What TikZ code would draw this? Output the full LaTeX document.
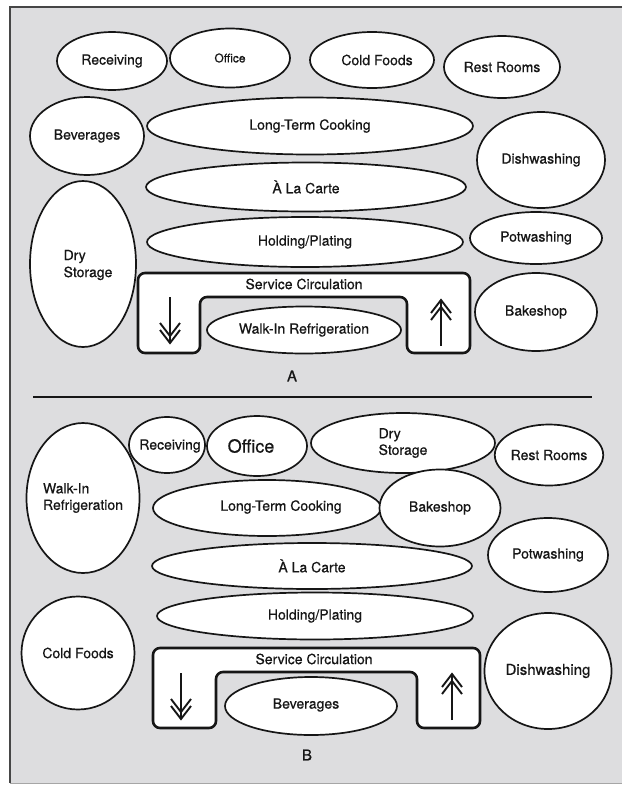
\documentclass[tikz,border=0pt]{standalone}
\usepackage{fontspec}
\setmainfont{TeX Gyre Heros}[FakeBold=0.6]
\usetikzlibrary{shapes.geometric}
\definecolor{panelgray}{RGB}{221,221,223}
\definecolor{framegray}{RGB}{70,70,70}
\definecolor{ink}{RGB}{22,22,22}
\begin{document}
\begin{tikzpicture}[x=1pt,y=-1pt,
  room/.style={ellipse, draw=ink, line width=1.7pt, fill=white, inner sep=0pt,
    text=ink, font=\fontsize{14}{16.5}\selectfont},
  lbl/.style={inner sep=0pt, text=ink, font=\fontsize{14}{17}\selectfont},
  circulation/.style={draw=ink, line width=2.6pt, fill=white, rounded corners=7pt},
  flowline/.style={draw=ink, line width=1.9pt},
  pics/downflow/.style={code={
    \draw[flowline] (0,0) -- (0,46);
    \draw[flowline] (-10,26) -- (0,39) -- (10,26);
    \draw[flowline] (-10,33) -- (0,46) -- (10,33);
  }},
  pics/upflow/.style={code={
    \draw[flowline] (0,0) -- (0,-46);
    \draw[flowline] (-10,-26) -- (0,-39) -- (10,-26);
    \draw[flowline] (-10,-33) -- (0,-46) -- (10,-33);
  }},
]
\useasboundingbox (0,0) rectangle (622,785);
\fill[white] (0,0) rectangle (622,785);
% panel background and frame
\fill[panelgray] (10,7) rectangle (622,783);
\draw[framegray, line width=1.4pt] (622,7) -- (10,7) -- (10,783);
\draw[gray!70, line width=0.6pt] (10,783) -- (622,783);

% ---------------- Layout A ----------------
\node[room, minimum width=110, minimum height=58] (recA) at (112,61) {Receiving};
\node[room, minimum width=120, minimum height=59, font=\fontsize{12}{14}\selectfont] (offA) at (230,58) {Office};
\node[room, minimum width=124, minimum height=56] (cfA) at (372,60) {};
\node[lbl] (cfAtext) at (377,60) {Cold Foods};
\node[room, minimum width=116, minimum height=62] (rrA) at (502,67) {Rest Rooms};
\node[room, minimum width=114, minimum height=78] (bevA) at (87,136) {Beverages};
\node[room, minimum width=326, minimum height=57] (ltcA) at (310,126) {Long-Term Cooking};
\node[room, minimum width=128, minimum height=96] (dwA) at (541,160) {Dishwashing};
\node[room, minimum width=320, minimum height=49] (alcA) at (306,187) {À La Carte};
\node[room, minimum width=316, minimum height=50] (hpA) at (305,242) {Holding/Plating};
\node[room, minimum width=132, minimum height=52] (pwA) at (536,238) {Potwashing};
\node[room, minimum width=106, minimum height=166] (dsA) at (83,264) {};
\node[lbl, align=left] (dsAtext) at (88,265) {Dry\\Storage};
\node[room, minimum width=122, minimum height=78] (bkA) at (536,312) {Bakeshop};

\path[circulation] (138,273) -- (470,273) -- (470,353) -- (407,353) -- (407,297)
  -- (200,297) -- (200,353) -- (138,353) -- cycle;
\node[lbl] (scA) at (304,284) {Service Circulation};
\node[room, minimum width=194, minimum height=47] (wiA) at (304,330) {Walk-In Refrigeration};
\pic at (170,297) {downflow};
\pic at (441,346) {upflow};
\node[lbl, font=\fontsize{15}{17}\selectfont] (labA) at (292,376) {A};

% divider
\draw[ink, line width=2.8pt] (33,397) -- (592,397);

% ---------------- Layout B ----------------
\node[room, minimum width=104, minimum height=150, align=left] (wiB) at (83,498) {Walk-In\\Refrigeration};
\node[room, minimum width=76, minimum height=56] (recB) at (167,445) {};
\node[lbl] (recBtext) at (170,446) {Receiving};
\node[room, minimum width=100, minimum height=60] (offB) at (257,446) {};
\node[lbl, font=\fontsize{18}{20}\selectfont] (offBtext) at (251,446) {Office};
\node[room, minimum width=184, minimum height=60, align=left] (dsB) at (403,443) {Dry\\Storage};
\node[room, minimum width=106, minimum height=61] (rrB) at (549,455) {Rest Rooms};
\node[room, minimum width=228, minimum height=56] (ltcB) at (267,508) {};
\node[lbl] (ltcBtext) at (281,507) {Long-Term Cooking};
\node[room, minimum width=121, minimum height=77] (bkB) at (440,508) {Bakeshop};
\node[room, minimum width=120, minimum height=74] (pwB) at (548,555) {Potwashing};
\node[room, minimum width=320, minimum height=46] (alcB) at (312,566) {À La Carte};
\node[room, minimum width=316, minimum height=47] (hpB) at (315,616) {Holding/Plating};
\node[room, minimum width=113, minimum height=113] (cfB) at (78,653) {Cold Foods};
\node[room, minimum width=127, minimum height=116, font=\fontsize{15}{17}\selectfont] (dwB) at (548,671) {Dishwashing};

\path[circulation] (153,648) -- (480,648) -- (480,728) -- (417,728) -- (417,672)
  -- (216,672) -- (216,728) -- (153,728) -- cycle;
\node[lbl] (scB) at (314,659) {Service Circulation};
\node[room, minimum width=172, minimum height=58] (bevB) at (311,706) {};
\node[lbl] (bevBtext) at (306,705) {Beverages};
\pic at (181,673) {downflow};
\pic at (452,720) {upflow};
\node[lbl, font=\fontsize{15}{17}\selectfont] (labB) at (307,755) {B};
\end{tikzpicture}
\end{document}
